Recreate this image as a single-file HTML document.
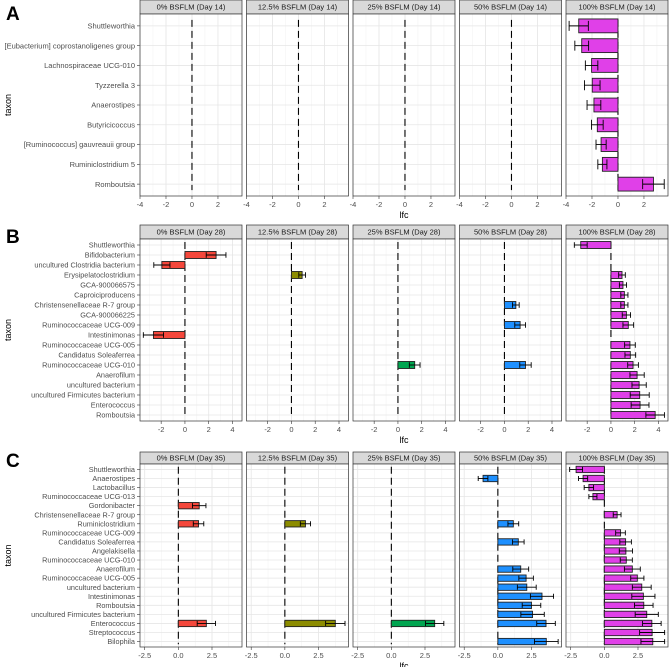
<!DOCTYPE html>
<html><head><meta charset="utf-8"><style>
html,body{margin:0;padding:0;background:#fff;}
svg{display:block;font-family:"Liberation Sans",Arial,sans-serif;}
</style></head><body>
<svg id="chart" width="669" height="667" xmlns="http://www.w3.org/2000/svg"></svg>
<script>
// ---------- DATA ----------
const panelTitles = ["0% BSFLM", "12.5% BSFLM", "25% BSFLM", "50% BSFLM", "100% BSFLM"];
const dayLabels = ["Day 14", "Day 28", "Day 35"];
const panelColors = ["#F4473B", "#8C8C00", "#00A550", "#1E90FF", "#E040E8"];

const taxaA = ["Shuttleworthia","[Eubacterium] coprostanoligenes group","Lachnospiraceae UCG-010","Tyzzerella 3","Anaerostipes","Butyricicoccus","[Ruminococcus] gauvreauii group","Ruminiclostridium 5","Romboutsia"];
const lfcA = [
  [null,null,null,null,null,null,null,null,null],
  [null,null,null,null,null,null,null,null,null],
  [null,null,null,null,null,null,null,null,null],
  [null,null,null,null,null,null,null,null,null],
  [-3.02,-2.79,-2.03,-1.98,-1.85,-1.59,-1.3,-1.2,2.73]
];
const seA = [
  [],[],[],[],
  [0.74,0.53,0.48,0.6,0.53,0.45,0.39,0.35,0.83]
];
const ticksA = [-4,-2,0,2];
const tickLabelsA = ["-4","-2","0","2"];

const taxaB = ["Shuttleworthia","Bifidobacterium","uncultured Clostridia bacterium","Erysipelatoclostridium","GCA-900066575","Caproiciproducens","Christensenellaceae R-7 group","GCA-900066225","Ruminococcaceae UCG-009","Intestinimonas","Ruminococcaceae UCG-005","Candidatus Soleaferrea","Ruminococcaceae UCG-010","Anaerofilum","uncultured bacterium","uncultured Firmicutes bacterium","Enterococcus","Romboutsia"];
const lfcB = [
  [null,2.62,-1.94,null,null,null,null,null,null,-2.65,null,null,null,null,null,null,null,null],
  [null,null,null,0.9,null,null,null,null,null,null,null,null,null,null,null,null,null,null],
  [null,null,null,null,null,null,null,null,null,null,null,null,1.41,null,null,null,null,null],
  [null,null,null,null,null,null,0.96,null,1.32,null,null,null,1.77,null,null,null,null,null],
  [-2.54,null,null,0.93,1.01,1.13,1.13,1.3,1.46,null,1.6,1.63,1.86,2.2,2.37,2.42,2.45,3.72]
];
const seB = [
  [0,0.83,0.68,0,0,0,0,0,0,0.85,0,0,0,0,0,0,0,0],
  [0,0,0,0.28,0,0,0,0,0,0,0,0,0,0,0,0,0,0],
  [0,0,0,0,0,0,0,0,0,0,0,0,0.45,0,0,0,0,0],
  [0,0,0,0,0,0,0.28,0,0.45,0,0,0,0.48,0,0,0,0,0],
  [0.54,0,0,0.28,0.3,0.3,0.3,0.35,0.45,0,0.45,0.45,0.45,0.6,0.6,0.8,0.75,0.78]
];
const ticksB = [-2,0,2,4];
const tickLabelsB = ["-2","0","2","4"];

const taxaC = ["Shuttleworthia","Anaerostipes","Lactobacillus","Ruminococcaceae UCG-013","Gordonibacter","Christensenellaceae R-7 group","Ruminiclostridium","Ruminococcaceae UCG-009","Candidatus Soleaferrea","Angelakisella","Ruminococcaceae UCG-010","Anaerofilum","Ruminococcaceae UCG-005","uncultured bacterium","Intestinimonas","Romboutsia","uncultured Firmicutes bacterium","Enterococcus","Streptococcus","Bilophila"];
const lfcC = [
  [null,null,null,null,1.55,null,1.5,null,null,null,null,null,null,null,null,null,null,2.08,null,null],
  [null,null,null,null,null,null,1.53,null,null,null,null,null,null,null,null,null,null,3.75,null,null],
  [null,null,null,null,null,null,null,null,null,null,null,null,null,null,null,null,null,3.22,null,null],
  [null,-1.1,null,null,null,null,1.15,null,1.52,null,null,1.7,2.1,2.15,3.28,2.5,2.58,3.58,null,3.6],
  [-2.1,-1.58,-1.15,-0.85,null,0.95,null,1.2,1.58,1.6,1.63,2.08,2.45,2.78,2.9,2.93,3.15,3.53,3.55,3.6]
];
const seC = [
  [0,0,0,0,0.5,0,0.39,0,0,0,0,0,0,0,0,0,0,0.68,0,0],
  [0,0,0,0,0,0,0.38,0,0,0,0,0,0,0,0,0,0,0.72,0,0],
  [0,0,0,0,0,0,0,0,0,0,0,0,0,0,0,0,0,0.68,0,0],
  [0,0.36,0,0,0,0,0.4,0,0.43,0,0,0.59,0.54,0.7,0.86,0.69,0.87,0.69,0,0.88],
  [0.48,0.34,0.35,0.3,0,0.29,0,0.36,0.43,0.49,0.45,0.59,0.49,0.7,0.86,0.69,0.86,0.69,0.93,0.88]
];
const ticksC = [-2.5,0,2.5];
const tickLabelsC = ["-2.5","0.0","2.5"];

// ---------- LAYOUT ----------
const NS = "http://www.w3.org/2000/svg";
const svg = document.getElementById("chart");
const panelX = [140, 246.5, 353, 459.5, 566];
const panelW = 102;
const rows = [
  {letter:"A", taxa:taxaA, lfc:lfcA, se:seA, ticks:ticksA, tl:tickLabelsA, dom:[-4,3.85], minorStep:1, stripTop:0, plotTop:14, plotBot:196, day:dayLabels[0], letterY:20, fs:7.5},
  {letter:"B", taxa:taxaB, lfc:lfcB, se:seB, ticks:ticksB, tl:tickLabelsB, dom:[-3.78,4.8], minorStep:1, stripTop:225, plotTop:239, plotBot:421, day:dayLabels[1], letterY:243, fs:7.3},
  {letter:"C", taxa:taxaC, lfc:lfcC, se:seC, ticks:ticksC, tl:tickLabelsC, dom:[-2.85,4.73], minorStep:1.25, stripTop:452, plotTop:464, plotBot:647, day:dayLabels[2], letterY:467, fs:7.3}
];

function mk(tag, attrs, parent){
  const e = document.createElementNS(NS, tag);
  for (const k in attrs) e.setAttribute(k, attrs[k]);
  (parent||svg).appendChild(e);
  return e;
}

rows.forEach((r, ri) => {
  const g = mk("g", {});
  
  
  const n = r.taxa.length;
  const step = (r.plotBot - r.plotTop) / (n - 1 + 1.2);
  const yPos = i => r.plotTop + step * 0.6 + i * step;

  // panel letter
  const L = mk("text", {x:6, y:r.letterY, "font-size":19, "font-weight":"bold", fill:"#000"}, g);
  L.textContent = r.letter;
  
  

  // y-axis title
  const cy = (r.plotTop + r.plotBot) / 2;
  const yt = mk("text", {x:0, y:0, "font-size":9, fill:"#000", "text-anchor":"middle", transform:`translate(11,${cy}) rotate(-90)`}, g);
  yt.textContent = "taxon";
  
  

  // y tick labels
  r.taxa.forEach((t, i) => {
    const tx = mk("text", {x:135, y:yPos(i) + r.fs*0.35, "font-size":r.fs, fill:"#4d4d4d", "text-anchor":"end"}, g);
    tx.textContent = t;
    
    
    const tk = mk("line", {x1:137, x2:140, y1:yPos(i), y2:yPos(i), stroke:"#333", "stroke-width":0.6}, g);
    
    
  });

  panelX.forEach((px, pi) => {
    const pg = mk("g", {}, g);
    
    
    const xs = v => px + (v - r.dom[0]) / (r.dom[1] - r.dom[0]) * panelW;

    // strip
    const st = mk("rect", {x:px, y:r.stripTop, width:panelW, height:r.plotTop - r.stripTop, fill:"#d9d9d9", stroke:"#333", "stroke-width":0.7}, pg);
    
    
    const stt = mk("text", {x:px + panelW/2, y:(r.stripTop + r.plotTop)/2 + 2.7, "font-size":7.5, fill:"#1a1a1a", "text-anchor":"middle"}, pg);
    stt.textContent = panelTitles[pi] + " (" + r.day + ")";
    
    

    // background
    mk("rect", {x:px, y:r.plotTop, width:panelW, height:r.plotBot - r.plotTop, fill:"#fff"}, pg);
    // minor grid
    for (let v = Math.ceil(r.dom[0] / r.minorStep) * r.minorStep; v <= r.dom[1]; v += r.minorStep) {
      const gl = mk("line", {x1:xs(v), x2:xs(v), y1:r.plotTop, y2:r.plotBot, stroke:"#f0f0f0", "stroke-width":0.5}, pg);
      
      
    }
    // major grid vertical
    r.ticks.forEach(v => {
      const gl = mk("line", {x1:xs(v), x2:xs(v), y1:r.plotTop, y2:r.plotBot, stroke:"#e6e6e6", "stroke-width":0.8}, pg);
      
      
    });
    // horizontal grid
    r.taxa.forEach((t, i) => {
      const gl = mk("line", {x1:px, x2:px + panelW, y1:yPos(i), y2:yPos(i), stroke:"#e6e6e6", "stroke-width":0.8}, pg);
      
      
    });
    // zero dashed line
    const zl = mk("line", {x1:xs(0), x2:xs(0), y1:r.plotTop + step*0.3, y2:r.plotBot - step*0.3, stroke:"#000", "stroke-width":1.1, "stroke-dasharray":"7,4"}, pg);
    
    

    // bars
    const vals = r.lfc[pi], ses = r.se[pi] || [];
    const bh = step * 0.7;
    vals.forEach((v, i) => {
      if (v === null || v === undefined) return;
      const x0 = xs(Math.min(0, v)), x1 = xs(Math.max(0, v));
      const b = mk("rect", {x:x0, y:yPos(i) - bh/2, width:x1 - x0, height:bh, fill:panelColors[pi], stroke:"#222", "stroke-width":0.9}, pg);
      
      
      const s = ses[i] || 0;
      if (s > 0) {
        const ey = yPos(i), cap = Math.min(step * 0.28, 5);
        const e1 = mk("line", {x1:xs(v - s), x2:xs(v + s), y1:ey, y2:ey, stroke:"#000", "stroke-width":0.9}, pg);
        
        
        [v - s, v + s].forEach(c => {
          const cp = mk("line", {x1:xs(c), x2:xs(c), y1:ey - cap, y2:ey + cap, stroke:"#000", "stroke-width":0.9}, pg);
          
          
        });
      }
    });

    // border
    const bd = mk("rect", {x:px, y:r.plotTop, width:panelW, height:r.plotBot - r.plotTop, fill:"none", stroke:"#333", "stroke-width":0.7}, pg);
    
    

    // x ticks
    r.ticks.forEach((v, ti) => {
      const tk = mk("line", {x1:xs(v), x2:xs(v), y1:r.plotBot, y2:r.plotBot + 3, stroke:"#333", "stroke-width":0.6}, pg);
      
      
      const tl = mk("text", {x:xs(v), y:r.plotBot + 11, "font-size":7.5, fill:"#4d4d4d", "text-anchor":"middle"}, pg);
      tl.textContent = r.tl[ti];
      
      
    });
  });

  // x axis title
  const xt = mk("text", {x:404, y:r.plotBot + 22, "font-size":9, fill:"#000", "text-anchor":"middle"}, g);
  xt.textContent = "lfc";
  
  
});
</script>
</body></html>
